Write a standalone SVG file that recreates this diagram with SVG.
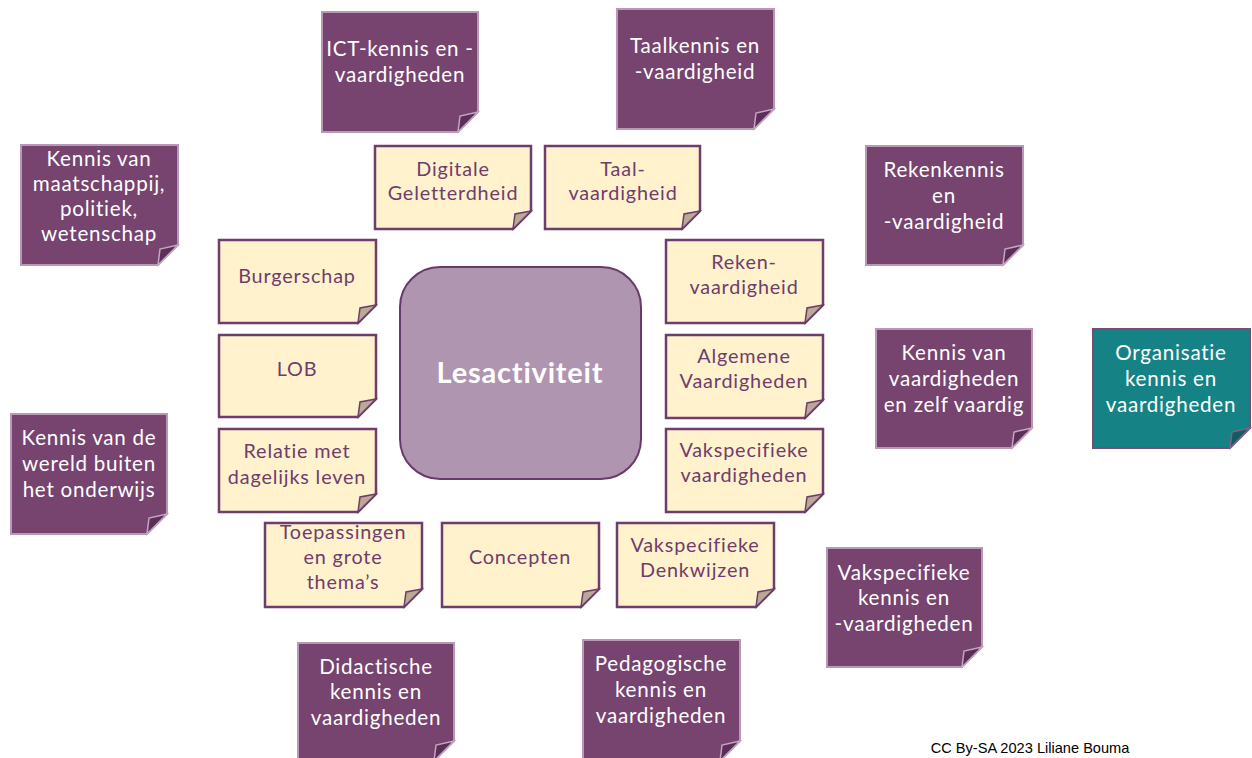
<svg xmlns="http://www.w3.org/2000/svg" width="1252" height="758" viewBox="0 0 1252 758">
<style>
.pn{fill:#76446F;stroke:#B898B5;stroke-width:2}
.pf{fill:#5B2F57;stroke:#C3A6C0;stroke-width:1.5}
.tn{fill:#158385;stroke:#7A4B77;stroke-width:2}
.tf{fill:#0E5E60;stroke:#8A5C87;stroke-width:1.5}
.yn{fill:#FFF2CC;stroke:#6F3D6C;stroke-width:2.5}
.yf{fill:#B9A996;stroke:#6F3D6C;stroke-width:1.5}
.pt{font-family:Lato,"Open Sans",sans-serif;font-size:20.6px;letter-spacing:0.75px;fill:#FFFFFF;text-anchor:middle}
.yt{font-family:Lato,"Open Sans",sans-serif;font-size:19.8px;letter-spacing:0.85px;fill:#6F3D6C;text-anchor:middle}
.ct{font-family:Lato,"Open Sans",sans-serif;font-size:29px;letter-spacing:0.8px;font-weight:bold;fill:#FFFFFF;text-anchor:middle}
.ft{font-family:"Liberation Sans",Arial,sans-serif;font-size:14.6px;fill:#000000;text-anchor:middle}
</style>
<rect width="1252" height="758" fill="#FFFFFF"/>
<g id="connectors"/>

<g id="center">
<rect x="400" y="267" width="241" height="212" rx="40" fill="#B095B0" stroke="#6A3A66" stroke-width="2"/>
<text class="ct" x="520" y="383">Lesactiviteit</text>
</g>

<!-- purple notes -->
<g id="ict">
<path class="pn" d="M322 12H478V112L458 132H322Z"/>
<path class="pf" d="M478 112L460 116L458 132Z"/>
<text class="pt" x="400" y="56">ICT-kennis en -</text>
<text class="pt" x="400" y="82">vaardigheden</text>
</g>
<g id="taalkennis">
<path class="pn" d="M617 9H774V109L754 129H617Z"/>
<path class="pf" d="M774 109L756 113L754 129Z"/>
<text class="pt" x="695" y="53">Taalkennis en</text>
<text class="pt" x="695" y="79">-vaardigheid</text>
</g>
<g id="rekenkennis">
<path class="pn" d="M866 146H1023V245L1003 265H866Z"/>
<path class="pf" d="M1023 245L1005 249L1003 265Z"/>
<text class="pt" x="944" y="177">Rekenkennis</text>
<text class="pt" x="944" y="203">en</text>
<text class="pt" x="944" y="229">-vaardigheid</text>
</g>
<g id="maatschappij">
<path class="pn" d="M21 145H178V245L158 265H21Z"/>
<path class="pf" d="M178 245L160 249L158 265Z"/>
<text class="pt" x="99" y="166">Kennis van</text>
<text class="pt" x="99" y="191">maatschappij,</text>
<text class="pt" x="99" y="216">politiek,</text>
<text class="pt" x="99" y="241">wetenschap</text>
</g>
<g id="wereld">
<path class="pn" d="M11 414H167V514L147 534H11Z"/>
<path class="pf" d="M167 514L149 518L147 534Z"/>
<text class="pt" x="89" y="445">Kennis van de</text>
<text class="pt" x="89" y="471">wereld buiten</text>
<text class="pt" x="89" y="497">het onderwijs</text>
</g>
<g id="vaardigheden-zelf">
<path class="pn" d="M876 329H1032V428L1012 448H876Z"/>
<path class="pf" d="M1032 428L1014 432L1012 448Z"/>
<text class="pt" x="954" y="360">Kennis van</text>
<text class="pt" x="954" y="386">vaardigheden</text>
<text class="pt" x="954" y="412">en zelf vaardig</text>
</g>
<g id="organisatie">
<path class="tn" d="M1093 329H1250V428L1230 448H1093Z"/>
<path class="tf" d="M1250 428L1232 432L1230 448Z"/>
<text class="pt" x="1171" y="360">Organisatie</text>
<text class="pt" x="1171" y="386">kennis en</text>
<text class="pt" x="1171" y="412">vaardigheden</text>
</g>
<g id="vakspecifieke-kennis">
<path class="pn" d="M827 548H982V647L962 667H827Z"/>
<path class="pf" d="M982 647L964 651L962 667Z"/>
<text class="pt" x="904" y="580">Vakspecifieke</text>
<text class="pt" x="904" y="605">kennis en</text>
<text class="pt" x="904" y="631">-vaardigheden</text>
</g>
<g id="didactische">
<path class="pn" d="M298 643H454V741L434 761H298Z"/>
<path class="pf" d="M454 741L436 745L434 761Z"/>
<text class="pt" x="376" y="674">Didactische</text>
<text class="pt" x="376" y="699">kennis en</text>
<text class="pt" x="376" y="725">vaardigheden</text>
</g>
<g id="pedagogische">
<path class="pn" d="M583 640H740V741L720 761H583Z"/>
<path class="pf" d="M740 741L722 745L720 761Z"/>
<text class="pt" x="661" y="671">Pedagogische</text>
<text class="pt" x="661" y="697">kennis en</text>
<text class="pt" x="661" y="723">vaardigheden</text>
</g>

<!-- yellow notes -->
<g id="digitale">
<path class="yn" d="M375 146H531V211L513 229H375Z"/>
<path class="yf" d="M531 211L515 214L513 229Z"/>
<text class="yt" x="453" y="176">Digitale</text>
<text class="yt" x="453" y="200">Geletterdheid</text>
</g>
<g id="taalvaardigheid">
<path class="yn" d="M545 146H700V211L682 229H545Z"/>
<path class="yf" d="M700 211L684 214L682 229Z"/>
<text class="yt" x="623" y="176">Taal-</text>
<text class="yt" x="623" y="200">vaardigheid</text>
</g>
<g id="burgerschap">
<path class="yn" d="M219 240H376V305L358 323H219Z"/>
<path class="yf" d="M376 305L360 308L358 323Z"/>
<text class="yt" x="297" y="283">Burgerschap</text>
</g>
<g id="lob">
<path class="yn" d="M219 335H376V399L358 417H219Z"/>
<path class="yf" d="M376 399L360 402L358 417Z"/>
<text class="yt" x="297" y="376">LOB</text>
</g>
<g id="relatie">
<path class="yn" d="M219 429H376V494L358 512H219Z"/>
<path class="yf" d="M376 494L360 497L358 512Z"/>
<text class="yt" x="297" y="458">Relatie met</text>
<text class="yt" x="297" y="484">dagelijks leven</text>
</g>
<g id="toepassingen">
<path class="yn" d="M265 523H422V589L404 607H265Z"/>
<path class="yf" d="M422 589L406 592L404 607Z"/>
<text class="yt" x="343" y="539">Toepassingen</text>
<text class="yt" x="343" y="564">en grote</text>
<text class="yt" x="343" y="589">thema’s</text>
</g>
<g id="concepten">
<path class="yn" d="M442 523H599V589L581 607H442Z"/>
<path class="yf" d="M599 589L583 592L581 607Z"/>
<text class="yt" x="520" y="564">Concepten</text>
</g>
<g id="denkwijzen">
<path class="yn" d="M617 523H774V589L756 607H617Z"/>
<path class="yf" d="M774 589L758 592L756 607Z"/>
<text class="yt" x="695" y="552">Vakspecifieke</text>
<text class="yt" x="695" y="577">Denkwijzen</text>
</g>
<g id="rekenvaardigheid">
<path class="yn" d="M666 240H823V305L805 323H666Z"/>
<path class="yf" d="M823 305L807 308L805 323Z"/>
<text class="yt" x="744" y="269">Reken-</text>
<text class="yt" x="744" y="294">vaardigheid</text>
</g>
<g id="algemene">
<path class="yn" d="M666 335H823V400L805 418H666Z"/>
<path class="yf" d="M823 400L807 403L805 418Z"/>
<text class="yt" x="744" y="363">Algemene</text>
<text class="yt" x="744" y="388">Vaardigheden</text>
</g>
<g id="vakvaardigheden">
<path class="yn" d="M666 429H823V494L805 512H666Z"/>
<path class="yf" d="M823 494L807 497L805 512Z"/>
<text class="yt" x="744" y="457">Vakspecifieke</text>
<text class="yt" x="744" y="482">vaardigheden</text>
</g>

<text class="ft" x="1030" y="753">CC By-SA 2023 Liliane Bouma</text>
</svg>
